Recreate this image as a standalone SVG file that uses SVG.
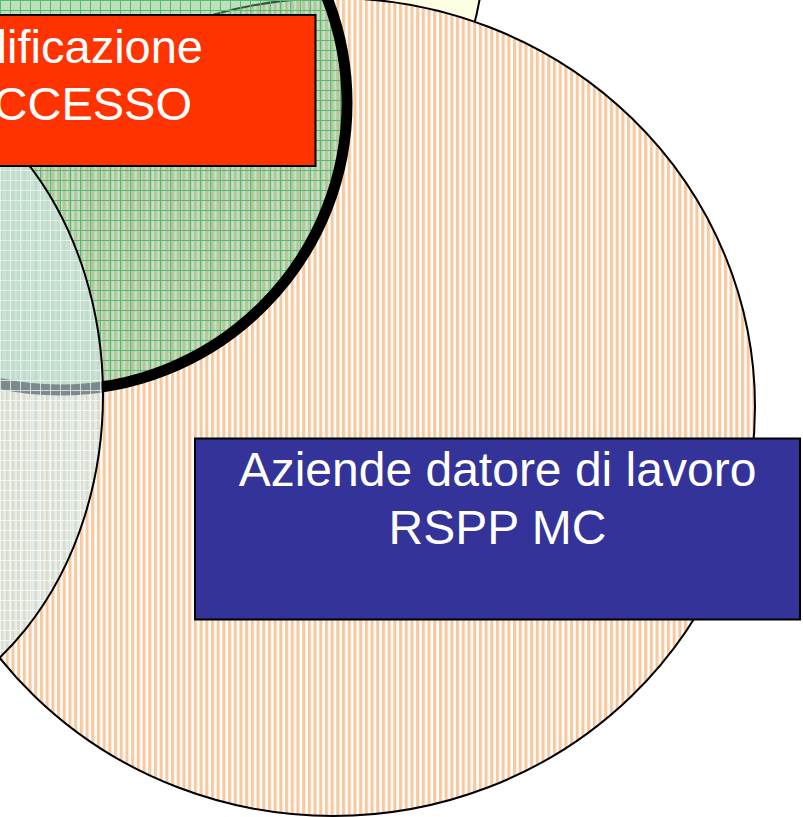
<svg xmlns="http://www.w3.org/2000/svg" width="803" height="817" viewBox="0 0 803 817">
  <style>
    .outline { stroke: #000000; stroke-width: 2; }
    .label { font-family: "Liberation Sans", Arial, Helvetica, sans-serif; font-size: 48px; fill: #ffffff; }
    .red-label { font-size: 47px; }
  </style>
  <defs>
    <pattern id="stripes" patternUnits="userSpaceOnUse" width="5.7" height="10">
      <rect width="5.7" height="10" fill="#ffffff"/>
      <rect width="3.2" height="10" fill="#f7c9a0"/>
    </pattern>
    <pattern id="greengrid" patternUnits="userSpaceOnUse" width="10" height="10">
      <rect width="10" height="10" fill="#70c08a" fill-opacity="0.45"/>
      <path d="M0 0.5H10M0.5 0V10" stroke="#55bb74" stroke-width="1" fill="none"/>
    </pattern>
    <pattern id="tealgrid" patternUnits="userSpaceOnUse" width="10" height="10">
      <rect width="10" height="10" fill="#cde8e8" fill-opacity="0.6"/>
      <path d="M0 0.5H10M0.5 0V10" stroke="#ffffff" stroke-opacity="0.7" stroke-width="1" fill="none"/>
    </pattern>
  </defs>
  <rect width="803" height="817" fill="#ffffff"/>

  <g id="yellow-circle">
    <circle cx="184" cy="-52" r="300" fill="#fdfde2" class="outline"/>
  </g>

  <g id="orange-circle">
    <ellipse cx="333" cy="407" rx="422" ry="409" fill="url(#stripes)" class="outline"/>
  </g>

  <g id="green-circle">
    <circle cx="60" cy="103" r="287" fill="url(#greengrid)" stroke="#000000" stroke-width="11"/>
  </g>

  <g id="teal-circle">
    <ellipse cx="-159" cy="395" rx="262" ry="330" fill="url(#tealgrid)" class="outline"/>
  </g>

  <g id="red-box">
    <rect x="-300" y="15" width="615.5" height="151" fill="#ff3300" class="outline"/>
    <text class="label red-label" x="203" y="63" text-anchor="end">lificazione</text>
    <text class="label red-label" x="192" y="120" text-anchor="end">CCESSO</text>
  </g>

  <g id="blue-box">
    <rect x="195" y="438.5" width="605" height="181" fill="#333399" class="outline"/>
    <text class="label" x="497.5" y="486" text-anchor="middle">Aziende datore di lavoro</text>
    <text class="label" x="497.5" y="544" text-anchor="middle">RSPP MC</text>
  </g>

  <g id="connectors"/>
</svg>
